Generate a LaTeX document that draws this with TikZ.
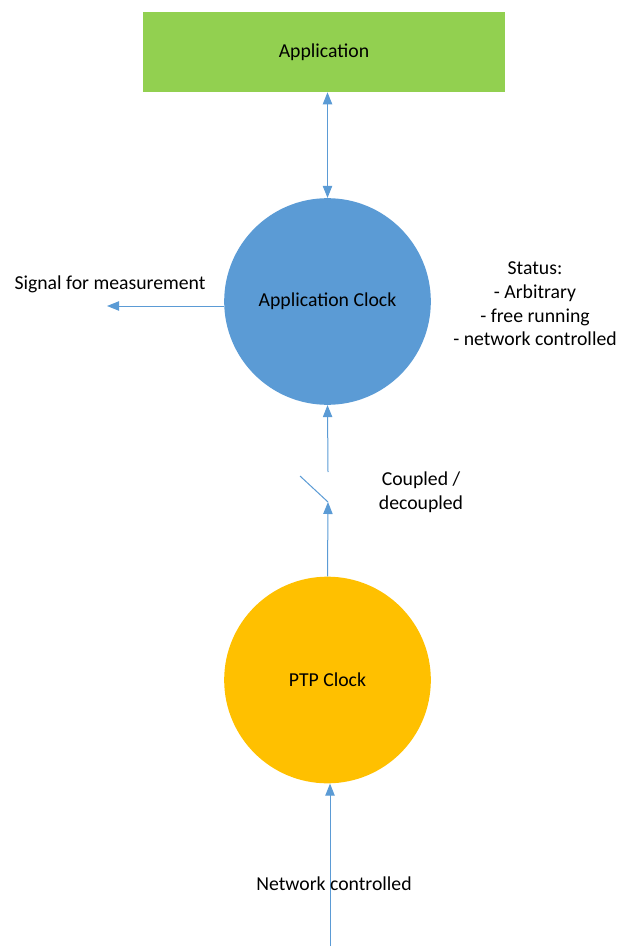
\documentclass[tikz,border=0pt]{standalone}
\usepackage{fontspec}
\setmainfont{Carlito}
\usetikzlibrary{arrows.meta,positioning}
\definecolor{appGreen}{RGB}{146,208,80}
\definecolor{clkBlue}{RGB}{91,155,213}
\definecolor{ptpOrange}{RGB}{255,192,0}
\tikzset{
    appBox/.style={
        ,   rectangle
        ,   fill=appGreen
        ,   minimum width=271.5pt
        ,   minimum height=60pt
        ,   text = black
    },
    clkCircle/.style={
        ,   circle
        ,   minimum size=155pt
        ,   inner sep=0pt
        ,   fill=#1
        ,   text = black
    },
    sigLine/.style={
        ,   draw=clkBlue
        ,   line width=0.75pt
    },
    sigArrow/.style={
        ,   sigLine
        ,   -{Triangle[length=9pt,width=7pt]}
    },
    sigBoth/.style={
        ,   sigLine
        ,   {Triangle[length=9pt,width=7pt]}-{Triangle[length=9pt,width=7pt]}
    },
    txt/.style={
        ,   align=center
        ,   inner sep=0pt
        ,   text = black
    }
}

\begin{document}
\begin{tikzpicture}[x=0.75pt, y=-0.75pt, font={\fontsize{14.8}{17.8}\selectfont}]
    \useasboundingbox (0,0) rectangle (618,948);
    \node[appBox] (app) at (324,52) {Application};
    \node[clkCircle=clkBlue] (appclk) at (327.5,301.5) {\raisebox{-1.5pt}{Application Clock}};
    \node[clkCircle=ptpOrange] (ptp) at (327.5,680) {PTP Clock};

    \draw[sigBoth] (appclk.north |- app.south) -- (appclk.north); % app <-> clock

    \coordinate (sigEnd) at (107,306);
    \draw[sigArrow] (sigEnd -| appclk.west) -- (sigEnd);
    \node[txt] (sigTxt) at (110,284) {Signal for measurement};

    \node[txt] (status) at (535,304) {Status:\\- Arbitrary\\- free running\\- network controlled};

    % switch between the two clocks
    \coordinate (swTop) at (328,472);
    \coordinate (swBot) at (328,502);
    \coordinate (swLever) at (300,476);
    \draw[sigArrow] (swTop) -- (appclk.south);
    \draw[sigArrow] (ptp.north) -- (swBot);
    \draw[sigLine] (swBot) -- (swLever);
    \node[txt] (swTxt) at (421,492) {Coupled /\\decoupled};

    \coordinate (netIn) at (330,946);
    \draw[sigArrow] (netIn) -- (netIn |- ptp.south);
    \node[txt] (netTxt) at (334,884) {Network controlled};
\end{tikzpicture}
\end{document}
